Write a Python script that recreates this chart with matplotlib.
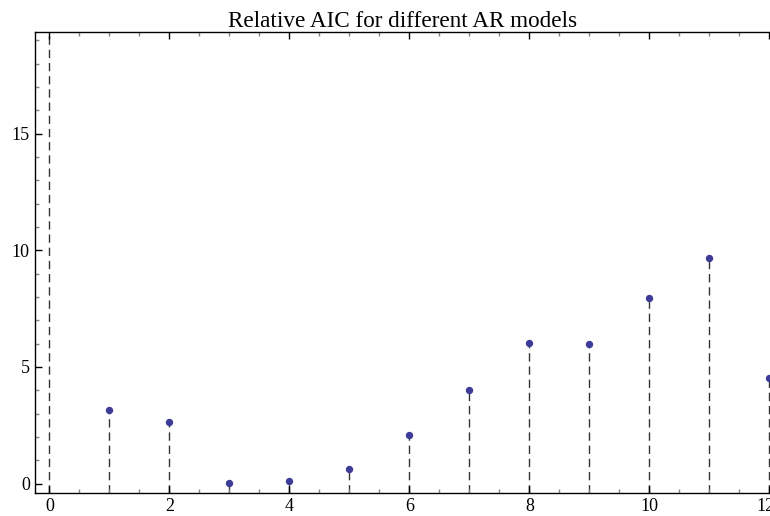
import matplotlib.pyplot as plt
import matplotlib.transforms as mtransforms
from matplotlib.ticker import MultipleLocator

# data
lags = [0, 1, 2, 3, 4, 5, 6, 7, 8, 9, 10, 11, 12]
rel_aic = [26.0, 3.15, 2.64, 0.03, 0.12, 0.63, 2.09, 4.01, 6.02, 5.97, 7.95, 9.66, 4.54]
xticks = [0, 2, 4, 6, 8, 10, 12]
yticks = [0, 5, 10, 15]

ymin, ymax = -0.385, 19.35
pt_color = "#3d3d99"

plt.rcParams["font.family"] = ["Liberation Serif", "DejaVu Serif"]

fig = plt.figure(figsize=(7.7, 5.16), dpi=100)
ax = fig.add_axes([35 / 770, (516 - 492.7) / 516, 735 / 770, 460.7 / 516])

# dashed stems from the bottom of the frame up to each value
ax.vlines(lags, ymin, rel_aic, colors="#333333", linestyles=(0, (6, 3.5)), linewidth=1.0, zorder=1)
ax.plot(lags[1:], rel_aic[1:], "o", color=pt_color, markersize=4.3, zorder=3)

ax.set_xlim(-0.24, 12.01)
ax.set_ylim(ymin, ymax)
ax.set_xticks(xticks)
ax.set_yticks(yticks)
ax.xaxis.set_minor_locator(MultipleLocator(0.5))
ax.yaxis.set_minor_locator(MultipleLocator(1))

ax.tick_params(which="both", direction="in", top=True, right=False, labelsize=13)
ax.tick_params(axis="y", pad=3.7)
ax.tick_params(axis="x", pad=3.5)
ax.tick_params(which="major", length=5, width=1.0, color="black")
ax.tick_params(which="minor", length=3, width=1.0, color="#888888")
ax.spines["right"].set_visible(False)
for s in ["left", "bottom", "top"]:
    ax.spines[s].set_linewidth(1.0)

# last x label sits a little left, as in the original
last = ax.get_xticklabels()[-1]
last.set_transform(last.get_transform() + mtransforms.ScaledTranslation(-4 / 100, 0, fig.dpi_scale_trans))

ax.set_title("Relative AIC for different AR models", fontsize=16.7, pad=2)

fig.savefig("out.png", dpi=100)
